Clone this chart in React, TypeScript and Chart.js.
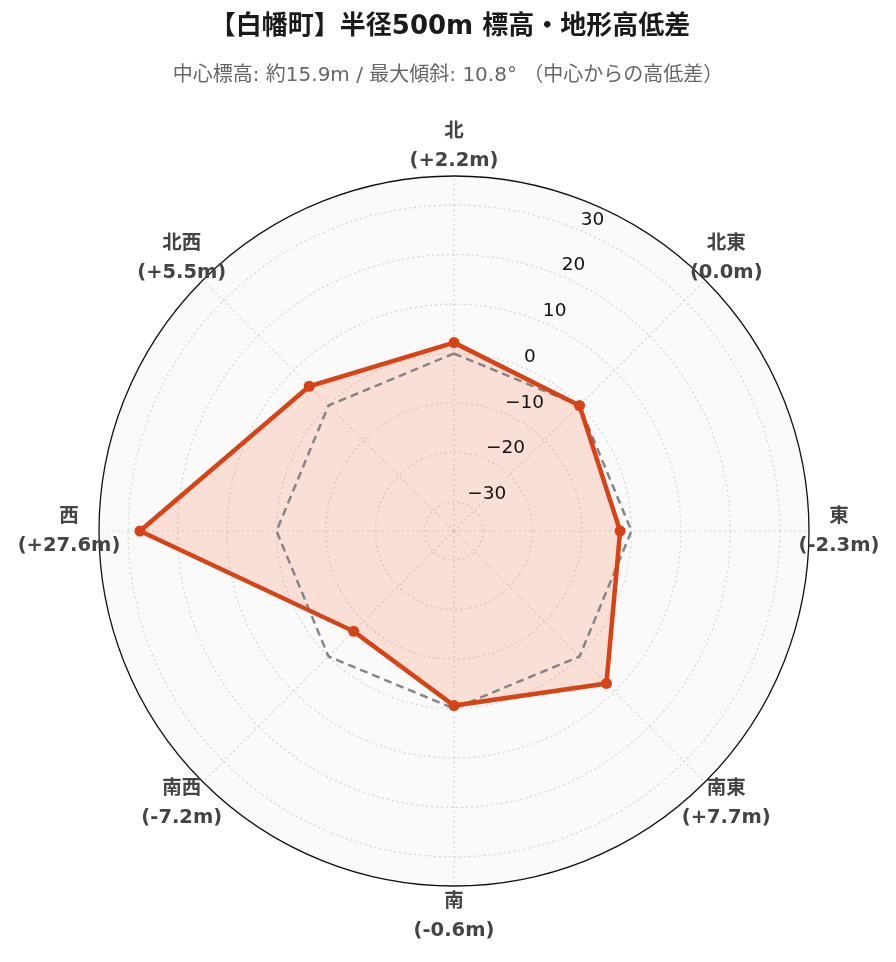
import React, { useEffect, useRef } from "react";
import { Chart, registerables } from "chart.js";

Chart.register(...registerables);

const TITLE = "【白幡町】半径500m 標高・地形高低差";
const SUBTITLE = "中心標高: 約15.9m / 最大傾斜: 10.8° （中心からの高低差）";
const DIRECTIONS = ["北", "北東", "東", "南東", "南", "南西", "西", "北西"];
const DIFFS = [2.2, 0.0, -2.3, 7.7, -0.6, -7.2, 27.6, 5.5];
const ZERO_LINE = [0, 0, 0, 0, 0, 0, 0, 0];
const TICK_VALUES = [-30, -20, -10, 0, 10, 20, 30];
const R_MIN = -35.88;
const R_MAX = 35.88;

const FONT_FAMILY = '"DejaVu Sans", "Noto Sans CJK JP", sans-serif';
const LINE_COLOR = "#D84315";
const FILL_COLOR = "rgba(255, 87, 34, 0.16)";
const GRID_COLOR = "#d0d7da";

function fmtDiff(v: number): string {
  const s = v.toFixed(1);
  return "(" + (v > 0 ? "+" : "") + s + "m)";
}

function fmtTick(v: number): string {
  return v < 0 ? "\u2212" + Math.abs(v) : String(v);
}

const overlayPlugin = {
  id: "overlay",
  afterDatasetsDraw(chart: any) {
    const scale = chart.scales.r;
    const ctx = chart.ctx;
    ctx.save();
    // outer circle
    ctx.beginPath();
    ctx.arc(scale.xCenter, scale.yCenter, scale.getDistanceFromCenterForValue(R_MAX), 0, Math.PI * 2);
    ctx.strokeStyle = "#111";
    ctx.lineWidth = 1.3;
    ctx.stroke();
    // radial tick labels along 22.5deg axis
    const ang = -Math.PI / 2 + Math.PI / 8;
    ctx.font = "18.5px " + FONT_FAMILY;
    ctx.fillStyle = "#111";
    ctx.textAlign = "left";
    ctx.textBaseline = "middle";
    TICK_VALUES.forEach((v) => {
      const d = scale.getDistanceFromCenterForValue(v);
      const x = scale.xCenter + d * Math.cos(ang);
      const y = scale.yCenter + d * Math.sin(ang);
      ctx.fillText(fmtTick(v), x + 2, y - 10);
    });
    ctx.restore();
  },
  afterDraw(chart: any) {
    const scale = chart.scales.r;
    const ctx = chart.ctx;
    ctx.save();
    ctx.textAlign = "center";
    ctx.textBaseline = "middle";
    // point labels
    ctx.font = "bold 19.5px " + FONT_FAMILY;
    ctx.fillStyle = "#444";
    DIRECTIONS.forEach((name, i) => {
      const p = scale.getPointPosition(i, 385);
      ctx.fillText(name, p.x, p.y - 14.5);
      ctx.fillText(fmtDiff(DIFFS[i]), p.x, p.y + 14.5);
    });
    // title
    ctx.font = "bold 26px " + FONT_FAMILY;
    ctx.fillStyle = "#1a1a1a";
    ctx.fillText(TITLE, 450, 27);
    ctx.font = "20px " + FONT_FAMILY;
    ctx.fillStyle = "#666";
    ctx.fillText(SUBTITLE, 448, 76);
    ctx.restore();
  },
};

export default function App() {
  const ref = useRef<HTMLCanvasElement | null>(null);
  useEffect(() => {
    if (!ref.current) return;
    const chart = new Chart(ref.current, {
      type: "radar",
      data: {
        labels: DIRECTIONS,
        datasets: [
          {
            label: "高低差",
            data: DIFFS,
            borderColor: LINE_COLOR,
            backgroundColor: FILL_COLOR,
            borderWidth: 4.5,
            fill: "start",
            pointRadius: 5.5,
            pointBackgroundColor: LINE_COLOR,
            pointBorderColor: LINE_COLOR,
            pointBorderWidth: 0,
            tension: 0,
          },
          {
            label: "基準",
            data: ZERO_LINE,
            borderColor: "#858585",
            borderWidth: 2.5,
            borderDash: [8, 5],
            fill: false,
            pointRadius: 0,
            tension: 0,
          },
        ],
      },
      options: {
        responsive: false,
        animation: false,
        layout: { padding: { left: 99, right: 87, top: 176, bottom: 76 } },
        plugins: {
          legend: { display: false },
          title: { display: false },
          tooltip: { enabled: false },
          filler: { drawTime: "beforeDatasetsDraw" },
        },
        scales: {
          r: {
            min: R_MIN,
            max: R_MAX,
            backgroundColor: "#fafafa",
            ticks: { display: false, stepSize: 10 },
            pointLabels: { display: false },
            grid: {
              circular: true,
              color: (c: any) =>
                c.tick && Number.isInteger(c.tick.value) ? GRID_COLOR : "rgba(0,0,0,0)",
              lineWidth: 1.2,
            },
            border: { dash: [2, 3] },
            angleLines: {
              display: true,
              color: GRID_COLOR,
              lineWidth: 1.2,
              borderDash: [2, 3],
            },
          },
        },
      },
      plugins: [overlayPlugin],
    } as any);
    return () => chart.destroy();
  }, []);
  return (
    <div style={{ position: "fixed", left: 0, top: 0, width: 896, height: 962, background: "#fff" }}>
      <canvas ref={ref} width={896} height={962} />
    </div>
  );
}
